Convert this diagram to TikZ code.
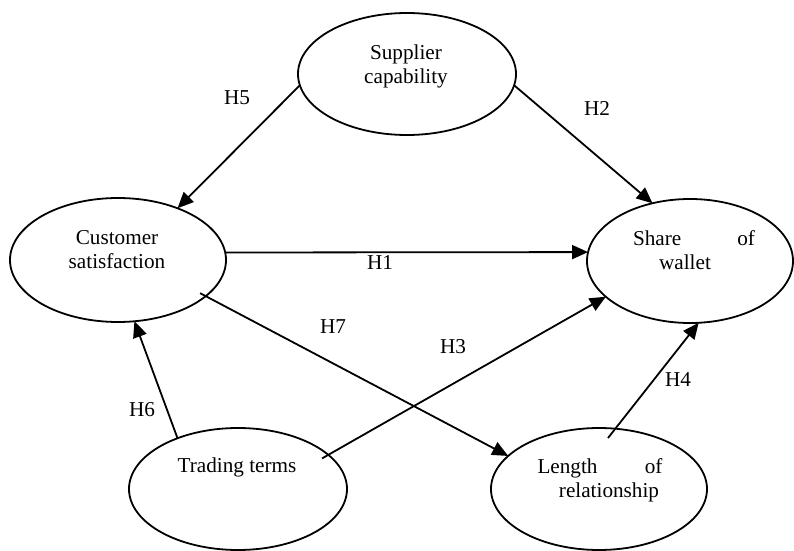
\documentclass[tikz,border=0pt]{standalone}
\usepackage{fontspec}
\setmainfont{Liberation Serif}
\usetikzlibrary{arrows.meta,positioning,calc,shapes.geometric}

\begin{document}
\begin{tikzpicture}[x=0.5pt,y=-0.5pt,
    construct/.style={draw, ellipse, line width=0.9pt, inner sep=0pt, outer sep=0pt},
    hyp/.style={-{Triangle[length=8pt,width=7pt]}, line width=0.9pt},
    txt/.style={align=center, inner sep=0pt, font=\fontsize{10.6}{12}\selectfont}]
    \useasboundingbox (0,0) rectangle (794,551);
    % constructs
    \node[construct, minimum width=109pt, minimum height=61pt] (supplier) at (407,74) {};
    \node[construct, minimum width=108pt, minimum height=62pt] (satisf) at (118,260) {};
    \node[construct, minimum width=103pt, minimum height=62pt] (wallet) at (690,261) {};
    \node[construct, minimum width=109pt, minimum height=61pt] (terms) at (238,489) {};
    \node[construct, minimum width=108pt, minimum height=61pt] (length) at (599,489) {};
    \node[txt] (supplier-txt) at (406,66) {Supplier\\capability};
    \node[txt] (satisf-txt) at (117,250) {Customer\\satisfaction};
    \node[txt] (wallet-txt) at (694,250) {\makebox[61pt]{Share\hfill of}\\\hspace*{-9pt}wallet};
    \node[txt] (terms-txt) at (237,467) {Trading terms};
    \node[txt] (length-txt) at (600,480) {\makebox[62.5pt]{Length\hfill of}\\\hspace*{9pt}relationship};
    % hypotheses
    \draw[hyp] (satisf.4) -- (wallet.175);
    \draw[hyp] (supplier.354) -- (wallet.123);
    \draw[hyp] ($(terms.center)!0.92!(terms.20)$) -- (wallet.203);
    \draw[hyp] ($(length.center)!0.84!(length.80)$) -- (wallet.278);
    \draw[hyp] (supplier.186) -- (satisf.41);
    \draw[hyp] (terms.140) -- (satisf.285);
    \draw[hyp] ($(satisf.center)!0.93!(satisf.338)$) -- (length.160);
    \node[txt] (h1) at (380,263) {H1};
    \node[txt] (h2) at (597,108) {H2};
    \node[txt] (h3) at (453,347) {H3};
    \node[txt] (h4) at (678,380) {H4};
    \node[txt] (h5) at (237,98) {H5};
    \node[txt] (h6) at (142,410) {H6};
    \node[txt] (h7) at (333,327) {H7};
\end{tikzpicture}
\end{document}
